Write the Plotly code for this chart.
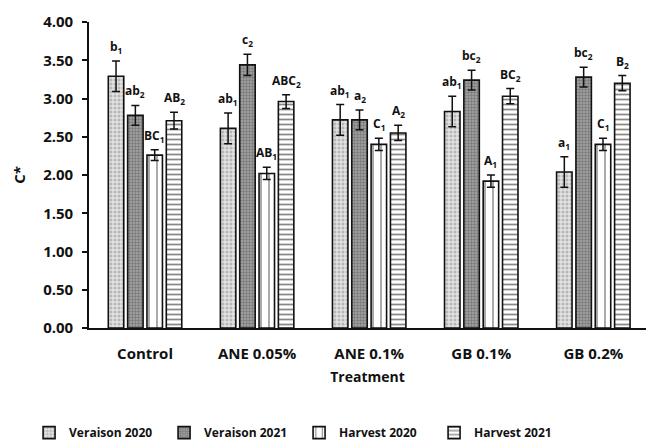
import plotly.graph_objects as go

# Treatment groups and series
treatments = ["Control", "ANE 0.05%", "ANE 0.1%", "GB 0.1%", "GB 0.2%"]
series_names = ["Veraison 2020", "Veraison 2021", "Harvest 2020", "Harvest 2021"]

# Mean C* values per series (one value per treatment)
veraison_2020 = [3.29, 2.61, 2.72, 2.83, 2.04]
veraison_2021 = [2.78, 3.44, 2.72, 3.24, 3.28]
harvest_2020 = [2.26, 2.02, 2.40, 1.92, 2.40]
harvest_2021 = [2.71, 2.96, 2.55, 3.03, 3.20]

# Standard errors
err_veraison_2020 = [0.20, 0.20, 0.20, 0.20, 0.20]
err_veraison_2021 = [0.13, 0.14, 0.13, 0.13, 0.13]
err_harvest_2020 = [0.07, 0.08, 0.08, 0.08, 0.08]
err_harvest_2021 = [0.11, 0.09, 0.10, 0.10, 0.10]

# Significance letters (letter, subscript)
letters_veraison_2020 = [("b", "1"), ("ab", "1"), ("ab", "1"), ("ab", "1"), ("a", "1")]
letters_veraison_2021 = [("ab", "2"), ("c", "2"), ("a", "2"), ("bc", "2"), ("bc", "2")]
letters_harvest_2020 = [("BC", "1"), ("AB", "1"), ("C", "1"), ("A", "1"), ("C", "1")]
letters_harvest_2021 = [("AB", "2"), ("ABC", "2"), ("A", "2"), ("BC", "2"), ("B", "2")]

values = [veraison_2020, veraison_2021, harvest_2020, harvest_2021]
errors = [err_veraison_2020, err_veraison_2021, err_harvest_2020, err_harvest_2021]
letters = [letters_veraison_2020, letters_veraison_2021, letters_harvest_2020, letters_harvest_2021]

patterns = [
    dict(shape=".", bgcolor="#e2e2e2", fgcolor="#8a8a8a", size=4, solidity=0.45),
    dict(shape="+", bgcolor="#9c9c9c", fgcolor="#4a4a4a", size=3, solidity=0.35),
    dict(shape="|", bgcolor="#ffffff", fgcolor="#111111", size=8, solidity=0.18),
    dict(shape="-", bgcolor="#ffffff", fgcolor="#111111", size=5, solidity=0.35),
]

FONT = "Open Sans"
BARGAP = 0.31
GROUPGAP = 0.2

fig = go.Figure()
for name, vals, errs, pat in zip(series_names, values, errors, patterns):
    fig.add_trace(go.Bar(
        name=name,
        x=treatments,
        y=vals,
        marker=dict(color=pat["bgcolor"], pattern=pat,
                    line=dict(color="#111111", width=1.6)),
        error_y=dict(type="data", array=errs, visible=True,
                     color="#111111", thickness=1.5, width=4),
    ))

# Significance letters placed above each error bar
slot = (1 - BARGAP) / len(series_names)
for j, (vals, errs, labs) in enumerate(zip(values, errors, letters)):
    for i, (v, e, (lt, sub)) in enumerate(zip(vals, errs, labs)):
        xpos = i - (1 - BARGAP) / 2 + slot * (j + 0.5)
        fig.add_annotation(
            x=xpos, y=v + e, xref="x", yref="y",
            text=f"{lt}<sub>{sub}</sub>", showarrow=False,
            yanchor="bottom", yshift=3,
            font=dict(family=FONT, size=12, color="#111111", weight="bold"),
        )

fig.update_layout(
    width=646, height=446,
    barmode="group", bargap=BARGAP, bargroupgap=GROUPGAP,
    plot_bgcolor="white", paper_bgcolor="white",
    margin=dict(l=89, r=0, t=22, b=118),
    font=dict(family=FONT, size=13, color="#111111", weight="bold"),
    showlegend=True,
    legend=dict(orientation="h", xref="container", x=0.045, xanchor="left",
                yref="container", y=0.03, yanchor="middle",
                font=dict(family=FONT, size=12, weight="bold"),
                traceorder="normal", itemwidth=30,
                entrywidth=90),
    xaxis=dict(
        showline=True, linecolor="#111111", linewidth=1.6,
        ticks="", range=[-0.5, 4.47],
        ticklabelstandoff=11,
        tickfont=dict(family=FONT, size=15, weight="bold"),
        title=dict(text="Treatment", standoff=10,
                   font=dict(family=FONT, size=14, weight="bold")),
    ),
    yaxis=dict(
        range=[0, 4.0], dtick=0.5, tickformat=".2f",
        showline=True, linecolor="#111111", linewidth=1.6,
        ticks="outside", ticklen=5, tickwidth=1.5, tickcolor="#111111",
        showgrid=False, zeroline=False,
        ticklabelstandoff=6,
        tickfont=dict(family=FONT, size=15, weight="bold"),
        title=dict(text="C*", standoff=14,
                   font=dict(family=FONT, size=15, weight="bold")),
    ),
)

fig.write_html("out.html")
